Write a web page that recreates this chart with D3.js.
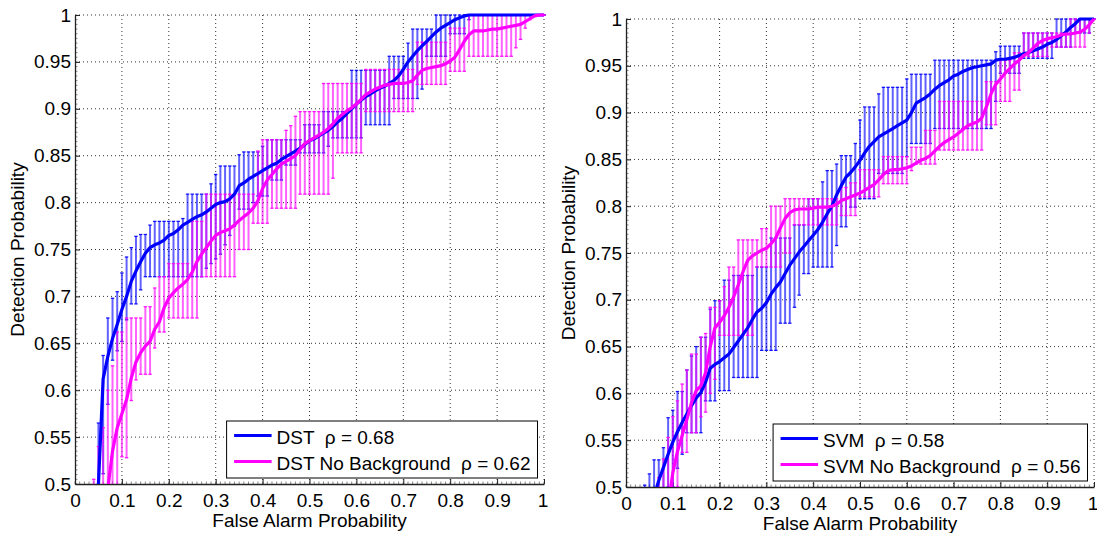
<!DOCTYPE html>
<html>
<head>
<meta charset="utf-8">
<script src="https://cdn.jsdelivr.net/npm/d3@7"></script>
<style>
body{margin:0;background:#fff;}
svg text{font-family:"Liberation Sans",Arial,Helvetica,sans-serif;fill:#000;}
</style>
</head>
<body>
<svg id="chart" width="1097" height="533"></svg>
<script>
// false alarm grid, shared by all curves
const falseAlarm=[
0.04,0.05,0.06,0.07,0.08,0.09,0.10,0.11,0.12,0.13,
0.14,0.15,0.16,0.17,0.18,0.19,0.20,0.21,0.22,0.23,
0.24,0.25,0.26,0.27,0.28,0.29,0.30,0.31,0.32,0.33,
0.34,0.35,0.36,0.37,0.38,0.39,0.40,0.41,0.42,0.43,
0.44,0.45,0.46,0.47,0.48,0.49,0.50,0.51,0.52,0.53,
0.54,0.55,0.56,0.57,0.58,0.59,0.60,0.61,0.62,0.63,
0.64,0.65,0.66,0.67,0.68,0.69,0.70,0.71,0.72,0.73,
0.74,0.75,0.76,0.77,0.78,0.79,0.80,0.81,0.82,0.83,
0.84,0.85,0.86,0.87,0.88,0.89,0.90,0.91,0.92,0.93,
0.94,0.95,0.96,0.97,0.98,0.99,1.00];

// left panel: DST
const dstMean=[
0.38,0.50,0.612,0.636,0.655,0.670,0.686,0.700,0.716,0.727,
0.737,0.746,0.752,0.755,0.757,0.760,0.765,0.767,0.771,0.776,
0.779,0.782,0.785,0.787,0.790,0.794,0.798,0.800,0.801,0.804,
0.809,0.818,0.821,0.825,0.828,0.831,0.834,0.837,0.840,0.842,
0.846,0.849,0.852,0.855,0.858,0.862,0.866,0.868,0.871,0.874,
0.877,0.881,0.886,0.890,0.895,0.900,0.905,0.909,0.913,0.916,
0.919,0.922,0.924,0.927,0.930,0.935,0.942,0.950,0.956,0.962,
0.967,0.972,0.977,0.982,0.986,0.989,0.992,0.995,0.997,0.999,
1,1,1,1,1,1,1,1,1,1,
1,1,1,1,1,1,1];
const dstHi=[
0.45,0.565,0.637,0.677,0.698,0.705,0.725,0.742,0.752,0.764,
0.766,0.766,0.776,0.780,0.780,0.780,0.780,0.780,0.780,0.783,
0.809,0.809,0.809,0.809,0.809,0.820,0.830,0.839,0.839,0.839,
0.839,0.851,0.854,0.854,0.854,0.854,0.860,0.867,0.867,0.867,
0.867,0.867,0.867,0.867,0.867,0.883,0.883,0.883,0.883,0.897,
0.897,0.897,0.897,0.897,0.897,0.941,0.941,0.941,0.941,0.941,
0.941,0.941,0.941,0.956,0.956,0.956,0.956,0.970,0.985,0.985,
0.985,0.985,0.985,1,1,1,1,1,1,1,
1,1,1,1,1,1,1,1,1,1,
1,1,1,1,1,1,1];
const dstLo=[
0.30,0.45,0.511,0.585,0.632,0.642,0.652,0.675,0.692,0.692,
0.707,0.721,0.721,0.721,0.721,0.721,0.721,0.721,0.721,0.721,
0.721,0.721,0.721,0.721,0.730,0.735,0.740,0.745,0.755,0.765,
0.775,0.793,0.793,0.793,0.800,0.807,0.807,0.807,0.824,0.824,
0.824,0.840,0.840,0.840,0.853,0.853,0.853,0.853,0.853,0.853,
0.860,0.869,0.869,0.869,0.869,0.869,0.869,0.869,0.883,0.883,
0.883,0.883,0.883,0.883,0.911,0.911,0.911,0.911,0.911,0.911,
0.921,0.956,0.956,0.956,0.956,0.956,0.980,0.980,0.980,0.980,
0.995,1,1,1,1,1,1,1,1,1,
1,1,1,1,1,1,1];

// left panel: DST No Background
const dstNbMean=[
0.30,0.36,0.42,0.495,0.535,0.560,0.575,0.590,0.613,0.630,
0.640,0.647,0.652,0.665,0.673,0.688,0.698,0.704,0.709,0.713,
0.718,0.726,0.737,0.745,0.752,0.759,0.765,0.768,0.770,0.772,
0.776,0.781,0.785,0.789,0.794,0.802,0.815,0.824,0.830,0.836,
0.841,0.844,0.847,0.850,0.857,0.863,0.866,0.869,0.872,0.875,
0.879,0.884,0.890,0.894,0.898,0.901,0.905,0.910,0.915,0.918,
0.921,0.923,0.925,0.926,0.927,0.927,0.927,0.928,0.930,0.936,
0.941,0.943,0.944,0.945,0.946,0.948,0.951,0.955,0.963,0.972,
0.979,0.983,0.983,0.983,0.984,0.985,0.985,0.986,0.987,0.988,
0.989,0.990,0.993,0.996,0.999,1,1];
const dstNbHi=[
0.505,0.540,0.560,0.600,0.626,0.662,0.662,0.677,0.677,0.677,
0.677,0.689,0.689,0.709,0.721,0.721,0.735,0.735,0.735,0.735,
0.735,0.780,0.780,0.780,0.809,0.809,0.809,0.809,0.809,0.809,
0.809,0.809,0.809,0.809,0.809,0.855,0.867,0.867,0.867,0.867,
0.867,0.877,0.882,0.892,0.897,0.897,0.897,0.897,0.897,0.927,
0.927,0.927,0.927,0.927,0.927,0.927,0.927,0.927,0.942,0.942,
0.942,0.942,0.942,0.942,0.942,0.942,0.942,0.942,0.942,0.971,
0.971,0.971,0.971,0.971,0.971,0.971,0.986,0.986,0.986,0.986,
1,1,1,1,1,1,1,1,1,1,
1,1,1,1,1,1,1];
const dstNbLo=[
0.20,0.25,0.30,0.35,0.40,0.45,0.529,0.528,0.589,0.611,
0.617,0.617,0.617,0.645,0.662,0.662,0.677,0.677,0.677,0.677,
0.677,0.677,0.677,0.721,0.721,0.721,0.721,0.721,0.721,0.721,
0.721,0.750,0.750,0.750,0.778,0.778,0.778,0.778,0.794,0.794,
0.794,0.794,0.794,0.794,0.809,0.809,0.809,0.809,0.809,0.809,
0.809,0.826,0.853,0.853,0.853,0.853,0.853,0.853,0.897,0.897,
0.897,0.897,0.897,0.897,0.897,0.897,0.897,0.897,0.897,0.926,
0.926,0.926,0.926,0.926,0.926,0.926,0.940,0.940,0.940,0.940,
0.956,0.956,0.956,0.956,0.956,0.956,0.956,0.956,0.956,0.956,
0.965,0.974,0.986,0.995,1,1,1];

// right panel: SVM
const svmMean=[
0.45,0.47,0.49,0.507,0.521,0.535,0.548,0.559,0.569,0.578,
0.587,0.595,0.601,0.612,0.627,0.631,0.634,0.638,0.642,0.649,
0.656,0.663,0.670,0.679,0.687,0.691,0.697,0.706,0.713,0.719,
0.728,0.737,0.744,0.751,0.757,0.763,0.769,0.775,0.783,0.792,
0.800,0.812,0.822,0.831,0.836,0.842,0.849,0.857,0.864,0.869,
0.874,0.877,0.880,0.883,0.886,0.889,0.892,0.900,0.910,0.913,
0.916,0.920,0.925,0.929,0.932,0.935,0.939,0.941,0.944,0.946,
0.948,0.949,0.950,0.951,0.952,0.956,0.957,0.957,0.958,0.959,
0.961,0.963,0.964,0.966,0.968,0.970,0.973,0.975,0.978,0.982,
0.986,0.991,0.995,1,1,1,1];
const svmHi=[
0.502,0.514,0.529,0.529,0.542,0.574,0.582,0.602,0.602,0.625,
0.640,0.650,0.660,0.660,0.690,0.699,0.699,0.721,0.721,0.726,
0.726,0.726,0.726,0.726,0.735,0.735,0.735,0.766,0.766,0.766,
0.766,0.766,0.780,0.780,0.780,0.808,0.808,0.808,0.826,0.838,
0.838,0.845,0.854,0.854,0.854,0.867,0.892,0.906,0.906,0.906,
0.920,0.927,0.927,0.927,0.927,0.927,0.936,0.941,0.941,0.941,
0.941,0.941,0.956,0.956,0.956,0.956,0.956,0.956,0.956,0.956,
0.956,0.956,0.956,0.956,0.956,0.965,0.971,0.971,0.971,0.971,
0.971,0.985,0.985,0.985,0.985,0.985,0.985,0.985,1,1,
1,1,1,1,1,1,1];
const svmLo=[
0.42,0.44,0.46,0.47,0.48,0.50,0.50,0.52,0.535,0.558,
0.558,0.558,0.558,0.592,0.592,0.592,0.603,0.603,0.603,0.617,
0.617,0.617,0.617,0.617,0.617,0.646,0.646,0.646,0.646,0.675,
0.675,0.675,0.692,0.705,0.728,0.728,0.735,0.735,0.735,0.735,
0.735,0.758,0.778,0.778,0.799,0.799,0.808,0.808,0.808,0.808,
0.835,0.835,0.835,0.835,0.835,0.835,0.853,0.867,0.867,0.867,
0.867,0.867,0.883,0.883,0.883,0.883,0.883,0.883,0.883,0.883,
0.883,0.883,0.883,0.883,0.883,0.912,0.942,0.942,0.942,0.942,
0.942,0.958,0.958,0.958,0.958,0.958,0.958,0.958,0.970,0.970,
0.970,0.970,0.985,0.985,0.985,0.985,1];

// right panel: SVM No Background
const svmNbMean=[
0.30,0.35,0.40,0.43,0.455,0.48,0.515,0.538,0.555,0.572,
0.590,0.603,0.608,0.622,0.650,0.670,0.676,0.683,0.692,0.703,
0.716,0.730,0.742,0.747,0.750,0.753,0.755,0.760,0.766,0.777,
0.787,0.793,0.796,0.797,0.797,0.797,0.798,0.799,0.799,0.799,
0.800,0.802,0.806,0.808,0.810,0.812,0.814,0.817,0.820,0.823,
0.828,0.834,0.838,0.839,0.839,0.840,0.841,0.843,0.846,0.849,
0.851,0.854,0.859,0.864,0.868,0.871,0.874,0.878,0.882,0.886,
0.888,0.890,0.894,0.906,0.920,0.930,0.936,0.942,0.947,0.952,
0.956,0.961,0.964,0.969,0.974,0.977,0.979,0.980,0.981,0.983,
0.984,0.984,0.985,0.986,0.989,0.994,1];
const svmNbHi=[
0.40,0.45,0.48,0.51,0.53,0.553,0.575,0.592,0.610,0.625,
0.642,0.642,0.660,0.664,0.692,0.692,0.699,0.714,0.735,0.735,
0.764,0.764,0.764,0.764,0.764,0.776,0.776,0.800,0.800,0.800,
0.808,0.808,0.808,0.808,0.808,0.808,0.808,0.808,0.808,0.808,
0.808,0.808,0.820,0.820,0.825,0.825,0.839,0.839,0.839,0.839,
0.839,0.853,0.853,0.853,0.853,0.853,0.853,0.863,0.863,0.863,
0.881,0.881,0.881,0.912,0.912,0.912,0.912,0.912,0.912,0.912,
0.912,0.912,0.912,0.933,0.933,0.933,0.956,0.956,0.956,0.964,
0.964,0.985,0.985,0.985,0.985,0.985,0.985,0.985,0.985,0.985,
0.985,1,1,1,1,1,1];
const svmNbLo=[
0.20,0.25,0.30,0.35,0.40,0.45,0.49,0.50,0.537,0.537,
0.558,0.558,0.575,0.580,0.600,0.615,0.662,0.662,0.662,0.662,
0.662,0.662,0.662,0.662,0.735,0.735,0.735,0.735,0.735,0.735,
0.750,0.750,0.780,0.780,0.780,0.780,0.780,0.780,0.780,0.780,
0.780,0.780,0.790,0.790,0.790,0.790,0.810,0.810,0.810,0.810,
0.810,0.824,0.824,0.824,0.824,0.824,0.824,0.838,0.845,0.845,
0.845,0.845,0.845,0.860,0.860,0.860,0.860,0.860,0.860,0.860,
0.860,0.860,0.860,0.887,0.887,0.887,0.912,0.912,0.912,0.924,
0.924,0.960,0.960,0.960,0.960,0.960,0.960,0.970,0.970,0.970,
0.970,0.970,0.970,0.970,0.970,0.985,1];

const xTicks=[0,0.1,0.2,0.3,0.4,0.5,0.6,0.7,0.8,0.9,1];
const yTicks=[0.5,0.55,0.6,0.65,0.7,0.75,0.8,0.85,0.9,0.95,1];
const leftLegend=['DST  \u03c1 = 0.68','DST No Background  \u03c1 = 0.62'];
const rightLegend=['SVM  \u03c1 = 0.58','SVM No Background  \u03c1 = 0.56'];
const xLabel='False Alarm Probability';
const yLabel='Detection Probability';

const BLUE='#0000ff', MAGENTA='#ff00ff';

const panels=[
  {left:75,right:544,top:15,bottom:484,legend:leftLegend,
   series:[{mean:dstMean,lo:dstLo,hi:dstHi,color:BLUE},
           {mean:dstNbMean,lo:dstNbLo,hi:dstNbHi,color:MAGENTA}]},
  {left:626,right:1094,top:19,bottom:487,legend:rightLegend,
   series:[{mean:svmMean,lo:svmLo,hi:svmHi,color:BLUE},
           {mean:svmNbMean,lo:svmNbLo,hi:svmNbHi,color:MAGENTA}]}
];

const svg=d3.select('#chart');
const fmt=d3.format('~g');

panels.forEach((p,pi)=>{
  const x=d3.scaleLinear().domain([0,1]).range([p.left,p.right]);
  const y=d3.scaleLinear().domain([0.5,1]).range([p.bottom,p.top]);
  const g=svg.append('g');

  // dotted grid
  g.selectAll('.gx').data(xTicks.slice(1)).join('line')
    .attr('x1',d=>x(d)).attr('x2',d=>x(d))
    .attr('y1',p.top).attr('y2',p.bottom)
    .attr('stroke','#333').attr('stroke-width',1).attr('stroke-dasharray','1,3');
  g.selectAll('.gy').data(yTicks.slice(1)).join('line')
    .attr('y1',d=>y(d)).attr('y2',d=>y(d))
    .attr('x1',p.left).attr('x2',p.right)
    .attr('stroke','#333').attr('stroke-width',1).attr('stroke-dasharray','1,3');

  // minor ticks
  g.selectAll('.mx').data(x.ticks(100)).join('line')
    .attr('x1',d=>x(d)).attr('x2',d=>x(d))
    .attr('y1',p.bottom).attr('y2',p.bottom-2.5)
    .attr('stroke','#888');
  g.selectAll('.my').data(y.ticks(100)).join('line')
    .attr('y1',d=>y(d)).attr('y2',d=>y(d))
    .attr('x1',p.left).attr('x2',p.left+2.5)
    .attr('stroke','#888');

  // axes
  const ax=g.append('g').attr('transform',`translate(0,${p.bottom})`)
    .call(d3.axisBottom(x).tickValues(xTicks).tickFormat(fmt)
      .tickSize(-5).tickSizeOuter(0).tickPadding(10));
  const ay=g.append('g').attr('transform',`translate(${p.left},0)`)
    .call(d3.axisLeft(y).tickValues(yTicks).tickFormat(fmt)
      .tickSize(-5).tickSizeOuter(0).tickPadding(4));
  [ax,ay].forEach(a=>{
    a.attr('font-family',null).attr('font-size',19);
    a.select('.domain').attr('stroke','#222').attr('stroke-width',1.3);
    a.selectAll('.tick line').attr('stroke','#222');
  });
  // keep the last x label inside the window
  ax.selectAll('.tick text').filter(d=>d===1).attr('dx',-1.5);

  // clip to plot area
  const clipId='clip'+pi;
  svg.append('clipPath').attr('id',clipId).append('rect')
    .attr('x',p.left-3).attr('y',p.top-3)
    .attr('width',p.right-p.left+6).attr('height',p.bottom-p.top+3);
  const plot=g.append('g').attr('clip-path',`url(#${clipId})`);

  // error bars
  p.series.forEach(s=>{
    const eb=plot.append('g');
    eb.selectAll('.bar').data(falseAlarm).join('line')
      .attr('x1',d=>x(d)).attr('x2',d=>x(d))
      .attr('y1',(d,i)=>y(s.lo[i])).attr('y2',(d,i)=>y(s.hi[i]))
      .attr('stroke',s.color).attr('stroke-width',2).attr('stroke-opacity',0.62);
    eb.selectAll('.capl').data(falseAlarm).join('line')
      .attr('x1',d=>x(d)-1.7).attr('x2',d=>x(d)+1.7)
      .attr('y1',(d,i)=>y(s.lo[i])).attr('y2',(d,i)=>y(s.lo[i]))
      .attr('stroke',s.color).attr('stroke-width',1.3).attr('stroke-opacity',0.9);
    eb.selectAll('.caph').data(falseAlarm).join('line')
      .attr('x1',d=>x(d)-1.7).attr('x2',d=>x(d)+1.7)
      .attr('y1',(d,i)=>y(s.hi[i])).attr('y2',(d,i)=>y(s.hi[i]))
      .attr('stroke',s.color).attr('stroke-width',1.3).attr('stroke-opacity',0.9);
  });

  // mean curves
  p.series.forEach(s=>{
    const line=d3.line().x(d=>x(d)).y((d,i)=>y(s.mean[i]));
    plot.append('path').datum(falseAlarm)
      .attr('d',line).attr('fill','none')
      .attr('stroke',s.color).attr('stroke-width',3.2)
      .attr('stroke-linejoin','round');
  });

  // axis labels
  g.append('text')
    .attr('x',(p.left+p.right)/2).attr('y',p.bottom+43)
    .attr('text-anchor','middle').attr('font-size',19)
    .text(xLabel);
  g.append('text')
    .attr('transform',`translate(${p.left-51},${(p.top+p.bottom)/2}) rotate(-90)`)
    .attr('text-anchor','middle').attr('font-size',19)
    .text(yLabel);

  // legend
  const lg=g.append('g');
  const box=lg.append('rect').attr('fill','#fff').attr('stroke','#000').attr('stroke-width',1);
  const rows=[14.5,40.5];
  const texts=lg.selectAll('.lt').data(p.legend).join('text')
    .attr('font-size',19).style('white-space','pre')
    .text(d=>d);
  const tw=d3.max(texts.nodes(),n=>n.getComputedTextLength());
  const bw=50+tw+7, bh=57;
  const bx=p.right-6.5-bw, by=p.bottom-6-bh;
  box.attr('x',bx).attr('y',by).attr('width',bw).attr('height',bh);
  texts.attr('x',bx+50).attr('y',(d,i)=>by+rows[i]+8.5);
  lg.selectAll('.ll').data(p.series).join('line')
    .attr('x1',bx+7.5).attr('x2',bx+45)
    .attr('y1',(d,i)=>by+rows[i]).attr('y2',(d,i)=>by+rows[i])
    .attr('stroke',d=>d.color).attr('stroke-width',3);
});
</script>
</body>
</html>
